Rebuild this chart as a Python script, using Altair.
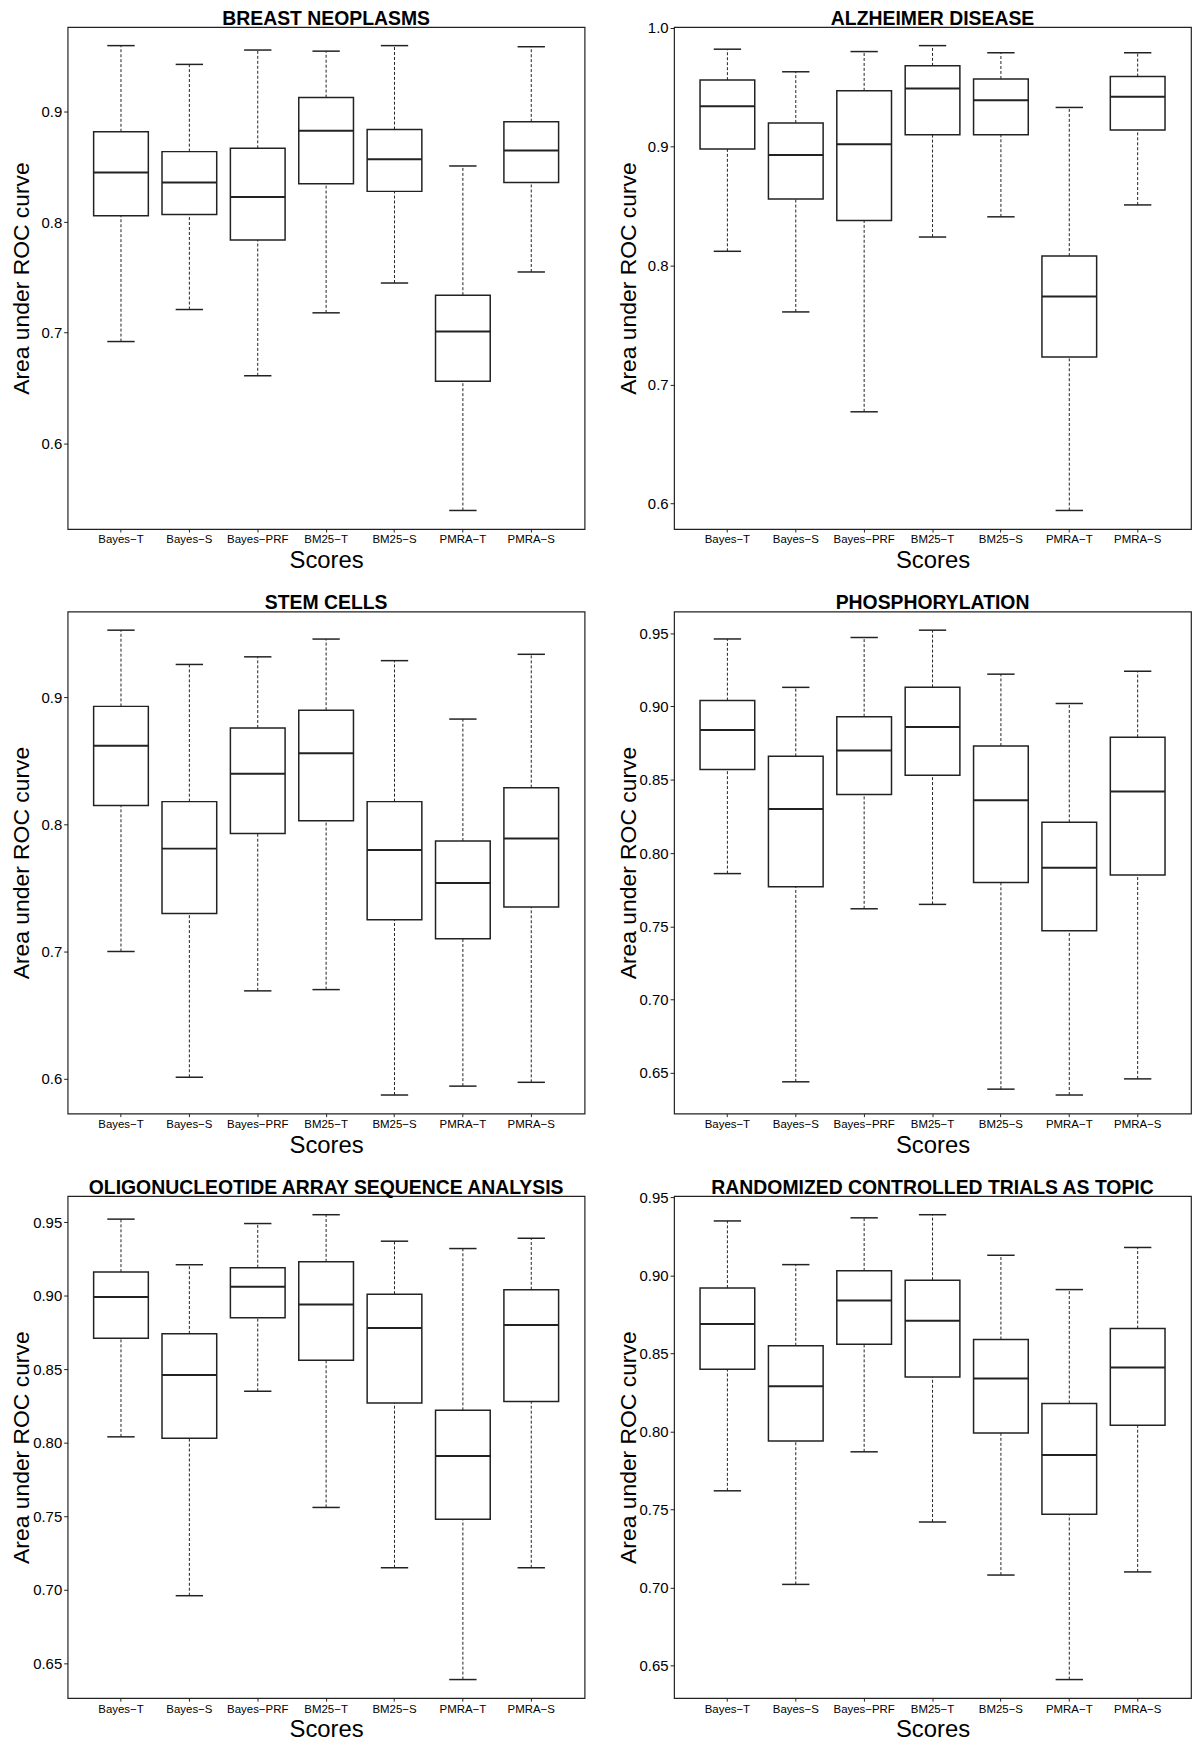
import altair as alt
import pandas as pd

SCORES = ["Bayes−T", "Bayes−S", "Bayes−PRF", "BM25−T", "BM25−S", "PMRA−T", "PMRA−S"]

TITLE_BREAST = "BREAST NEOPLASMS"
TITLE_ALZ = "ALZHEIMER DISEASE"
TITLE_STEM = "STEM CELLS"
TITLE_PHOS = "PHOSPHORYLATION"
TITLE_OLIGO = "OLIGONUCLEOTIDE ARRAY SEQUENCE ANALYSIS"
TITLE_RCT = "RANDOMIZED CONTROLLED TRIALS AS TOPIC"

# box statistics per panel: lower whisker, Q1, median, Q3, upper whisker
BREAST_LO = [0.692, 0.721, 0.661, 0.718, 0.745, 0.539, 0.755]
BREAST_Q1 = [0.806, 0.807, 0.784, 0.835, 0.828, 0.656, 0.836]
BREAST_MED = [0.845, 0.836, 0.823, 0.883, 0.857, 0.701, 0.865]
BREAST_Q3 = [0.882, 0.864, 0.867, 0.913, 0.884, 0.734, 0.891]
BREAST_HI = [0.960, 0.943, 0.956, 0.955, 0.960, 0.851, 0.959]

ALZ_LO = [0.812, 0.761, 0.677, 0.824, 0.841, 0.594, 0.851]
ALZ_Q1 = [0.898, 0.856, 0.838, 0.910, 0.910, 0.723, 0.914]
ALZ_MED = [0.934, 0.893, 0.902, 0.949, 0.939, 0.774, 0.942]
ALZ_Q3 = [0.956, 0.920, 0.947, 0.968, 0.957, 0.808, 0.959]
ALZ_HI = [0.982, 0.963, 0.980, 0.985, 0.979, 0.933, 0.979]

STEM_LO = [0.700, 0.601, 0.669, 0.670, 0.587, 0.594, 0.597]
STEM_Q1 = [0.815, 0.730, 0.793, 0.803, 0.725, 0.710, 0.735]
STEM_MED = [0.862, 0.781, 0.840, 0.856, 0.780, 0.754, 0.789]
STEM_Q3 = [0.893, 0.818, 0.876, 0.890, 0.818, 0.787, 0.829]
STEM_HI = [0.953, 0.926, 0.932, 0.946, 0.929, 0.883, 0.934]

PHOS_LO = [0.786, 0.644, 0.762, 0.765, 0.639, 0.635, 0.646]
PHOS_Q1 = [0.857, 0.777, 0.840, 0.853, 0.780, 0.747, 0.785]
PHOS_MED = [0.884, 0.830, 0.870, 0.886, 0.836, 0.790, 0.842]
PHOS_Q3 = [0.904, 0.866, 0.893, 0.913, 0.873, 0.821, 0.879]
PHOS_HI = [0.946, 0.913, 0.947, 0.952, 0.922, 0.902, 0.924]

OLIGO_LO = [0.804, 0.696, 0.835, 0.756, 0.715, 0.639, 0.715]
OLIGO_Q1 = [0.871, 0.803, 0.885, 0.856, 0.827, 0.748, 0.828]
OLIGO_MED = [0.899, 0.846, 0.906, 0.894, 0.878, 0.791, 0.880]
OLIGO_Q3 = [0.916, 0.874, 0.919, 0.923, 0.901, 0.822, 0.904]
OLIGO_HI = [0.952, 0.921, 0.949, 0.955, 0.937, 0.932, 0.939]

RCT_LO = [0.762, 0.702, 0.787, 0.742, 0.708, 0.641, 0.710]
RCT_Q1 = [0.840, 0.794, 0.856, 0.835, 0.799, 0.747, 0.804]
RCT_MED = [0.869, 0.829, 0.884, 0.871, 0.834, 0.785, 0.841]
RCT_Q3 = [0.892, 0.855, 0.903, 0.897, 0.859, 0.818, 0.866]
RCT_HI = [0.935, 0.907, 0.937, 0.939, 0.913, 0.891, 0.918]

TICKS_ONE = [0.6, 0.7, 0.8, 0.9]
TICKS_ALZ = [0.6, 0.7, 0.8, 0.9, 1.0]
TICKS_TWO = [0.65, 0.70, 0.75, 0.80, 0.85, 0.90, 0.95]

W = 520
H = 505
PAD_OUT = 0.28
STEP = W / (7 + 2 * PAD_OUT)
BOX_W = 0.8 * STEP
CAP_W = 0.4 * STEP
INK = "#222222"
FONT = "Liberation Sans"
YLABEL_SIZE = 15


def panel(title, lo, q1, med, q3, hi, ticks, fmt):
    df = pd.DataFrame({"score": SCORES, "lo": lo, "q1": q1, "med": med, "q3": q3, "hi": hi})
    vmin, vmax = min(lo), max(hi)
    pad = 0.04 * (vmax - vmin)
    d0, d1 = vmin - pad, vmax + pad
    # keep the title at the same height when a tick label sits at the top edge
    top_gap = (d1 - max(ticks)) / (d1 - d0) * H
    ext = max(0.0, YLABEL_SIZE / 2 - top_gap)
    yscale = alt.Scale(domain=[d0, d1], nice=False, zero=False)
    yaxis = alt.Axis(
        values=ticks, format=fmt, domain=False, grid=False, tickSize=4,
        tickColor=INK, tickWidth=1, labelFont=FONT, labelFontSize=YLABEL_SIZE,
        labelColor="black", labelPadding=2, titleFont=FONT, titleFontSize=23,
        titleFontWeight="normal", titleColor="black", titleAngle=270,
        titleX=-39, titleY=H / 2, titleAlign="center", titleBaseline="alphabetic",
    )
    xaxis = alt.Axis(
        labelAngle=0, domain=False, grid=False, tickSize=3, tickColor=INK,
        labelFont=FONT, labelFontSize=11.5, labelColor="black", labelPadding=2,
        labelOverlap=False, titleFont=FONT, titleFontSize=24,
        titleFontWeight="normal", titleColor="black", titleX=W / 2, titleY=39,
        titleAlign="center", titleBaseline="alphabetic",
    )
    x = alt.X("score:N", sort=SCORES,
              scale=alt.Scale(paddingInner=0, paddingOuter=PAD_OUT),
              axis=xaxis, title="Scores")

    def y(f):
        return alt.Y(f + ":Q", scale=yscale, axis=yaxis, title="Area under ROC curve")

    base = alt.Chart(df)
    w_lo = base.mark_rule(strokeDash=[3, 2], strokeWidth=1, color=INK).encode(
        x=x, y=y("lo"), y2="q1:Q")
    w_hi = base.mark_rule(strokeDash=[3, 2], strokeWidth=1, color=INK).encode(
        x=x, y=y("q3"), y2="hi:Q")
    cap_lo = base.mark_tick(size=CAP_W, thickness=1.5, color=INK, opacity=1).encode(
        x=x, y=y("lo"))
    cap_hi = base.mark_tick(size=CAP_W, thickness=1.5, color=INK, opacity=1).encode(
        x=x, y=y("hi"))
    box = base.mark_bar(size=BOX_W, fill="white", stroke=INK, strokeWidth=1.5).encode(
        x=x, y=y("q1"), y2="q3:Q")
    median = base.mark_tick(size=BOX_W, thickness=2, color=INK, opacity=1).encode(
        x=x, y=y("med"))
    return alt.layer(w_lo, w_hi, box, median, cap_lo, cap_hi).properties(
        width=W, height=H,
        title=alt.TitleParams(text=title, font=FONT, fontSize=19.5, fontWeight="bold",
                              color="black", anchor="middle", offset=-2 - ext),
    )


p1 = panel(TITLE_BREAST, BREAST_LO, BREAST_Q1, BREAST_MED, BREAST_Q3, BREAST_HI, TICKS_ONE, ".1f")
p2 = panel(TITLE_ALZ, ALZ_LO, ALZ_Q1, ALZ_MED, ALZ_Q3, ALZ_HI, TICKS_ALZ, ".1f")
p3 = panel(TITLE_STEM, STEM_LO, STEM_Q1, STEM_MED, STEM_Q3, STEM_HI, TICKS_ONE, ".1f")
p4 = panel(TITLE_PHOS, PHOS_LO, PHOS_Q1, PHOS_MED, PHOS_Q3, PHOS_HI, TICKS_TWO, ".2f")
p5 = panel(TITLE_OLIGO, OLIGO_LO, OLIGO_Q1, OLIGO_MED, OLIGO_Q3, OLIGO_HI, TICKS_TWO, ".2f")
p6 = panel(TITLE_RCT, RCT_LO, RCT_Q1, RCT_MED, RCT_Q3, RCT_HI, TICKS_TWO, ".2f")

chart = alt.vconcat(
    alt.hconcat(p1, p2, spacing=31),
    alt.hconcat(p3, p4, spacing=31),
    alt.hconcat(p5, p6, spacing=31),
    spacing=18,
).properties(
    padding={"left": 2, "top": -6, "right": 0, "bottom": 0}, background="white"
).configure_view(stroke=INK, strokeWidth=1.2)

chart.save("out.html", embed_options={"renderer": "svg", "actions": False})
